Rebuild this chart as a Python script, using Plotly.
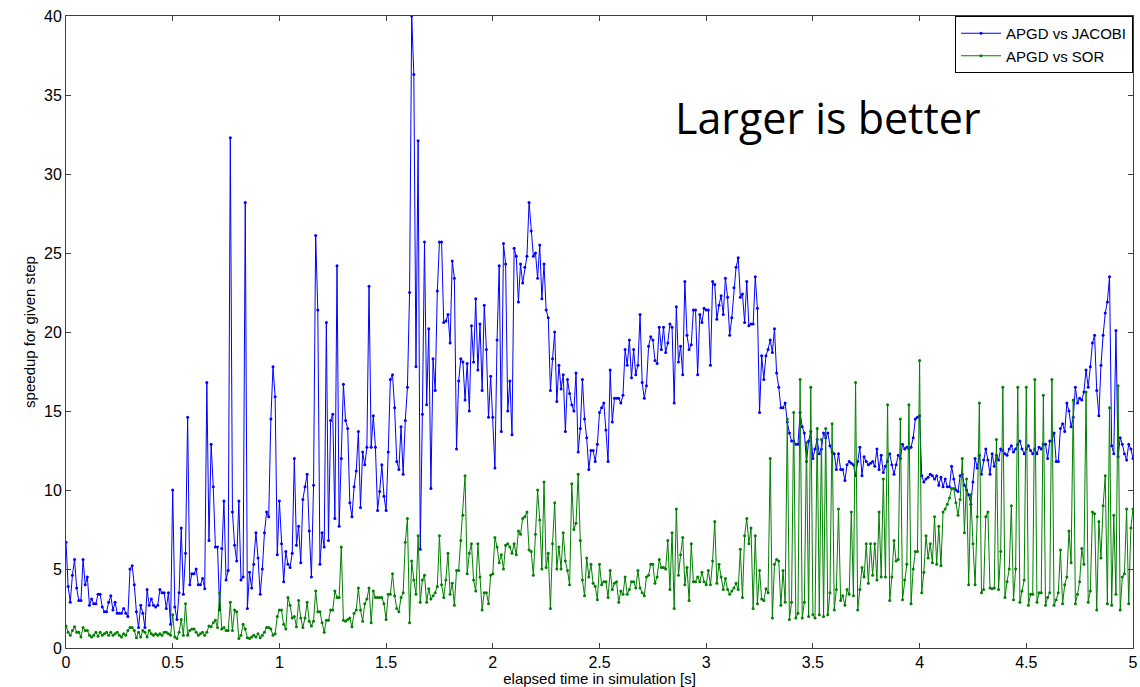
import plotly.graph_objects as go

# speedup APGD vs JACOBI, one value per 0.01 s (rows of 0.1 s)
jacobi = [
    6.7, 3.9, 2.9, 4.6, 5.6, 3.8, 3.0, 3.0, 5.6, 4.0,
    4.5, 2.7, 3.1, 2.8, 2.8, 3.4, 3.4, 2.6, 2.3, 2.3,
    2.9, 3.3, 2.4, 2.9, 2.2, 2.2, 2.2, 2.5, 2.2, 2.0,
    5.0, 5.2, 4.0, 2.3, 1.3, 2.7, 2.2, 1.3, 3.7, 2.7,
    3.1, 2.7, 2.6, 2.7, 3.7, 3.5, 3.5, 2.5, 3.5, 1.5,
    10.0, 2.6, 1.8, 3.5, 7.6, 3.4, 6.0, 14.6, 4.0, 4.7,
    4.7, 5.0, 4.0, 4.0, 4.4, 3.75, 16.8, 6.8, 12.9, 10.2,
    6.4, 6.4, 2.4, 6.3, 9.3, 4.3, 4.9, 32.3, 8.6, 6.5,
    5.5, 9.3, 4.3, 4.5, 28.2, 2.5, 4.8, 3.8, 5.3, 7.3,
    5.7, 3.4, 5.0, 7.3, 8.6, 8.3, 14.5, 17.8, 15.9, 5.9,
    9.3, 6.6, 4.2, 6.1, 5.3, 5.1, 6.0, 12.0, 6.5, 7.7,
    5.4, 9.4, 10.2, 11.0, 7.4, 4.5, 10.3, 26.1, 21.4, 5.3,
    7.3, 6.4, 20.6, 6.8, 14.4, 14.8, 8.2, 24.2, 7.7, 12.0,
    16.7, 14.4, 13.9, 9.2, 8.3, 10.2, 11.2, 13.7, 8.9, 12.4,
    11.6, 12.7, 22.9, 12.7, 14.7, 12.7, 8.7, 9.9, 11.6, 9.6,
    8.7, 12.4, 17.0, 17.3, 15.2, 11.8, 11.3, 14.0, 11.0, 14.4,
    16.5, 22.5, 40.0, 36.3, 17.8, 32.1, 6.25, 14.8, 25.7, 15.4,
    20.2, 10.1, 18.3, 16.3, 22.6, 25.7, 25.7, 20.6, 20.7, 21.1,
    19.3, 24.5, 23.4, 12.6, 16.9, 18.3, 18.1, 15.7, 18.0, 15.0,
    20.4, 18.1, 22.1, 17.6, 20.5, 16.3, 21.7, 18.9, 14.6, 17.2,
    14.6, 11.4, 19.5, 24.2, 13.7, 25.6, 24.3, 15.0, 16.9, 13.5,
    25.3, 24.8, 21.9, 24.3, 23.1, 24.1, 24.8, 28.2, 26.4, 24.8,
    25.0, 23.4, 25.5, 22.1, 24.3, 21.4, 20.9, 16.3, 18.3, 20.0,
    15.6, 17.9, 16.4, 17.3, 13.7, 17.0, 16.1, 15.4, 15.0, 17.4,
    12.4, 13.9, 17.0, 14.5, 13.3, 11.3, 12.5, 12.5, 11.8, 12.9,
    14.9, 15.2, 15.5, 13.8, 11.8, 17.6, 14.3, 15.8, 15.8, 15.8,
    15.5, 16.0, 18.9, 17.9, 19.5, 17.1, 18.9, 17.3, 17.9, 21.1,
    16.8, 15.8, 16.6, 19.1, 19.7, 19.5, 18.2, 18.0, 20.3, 18.9,
    20.3, 18.7, 19.3, 20.5, 20.3, 15.5, 21.6, 18.1, 19.1, 17.3,
    23.2, 19.8, 18.9, 19.2, 21.4, 21.4, 17.3, 21.1, 20.6, 21.5,
    21.4, 21.4, 17.9, 23.2, 23.0, 20.8, 21.7, 22.3, 21.1, 23.4,
    22.2, 19.8, 20.9, 22.8, 24.1, 24.7, 22.2, 22.4, 20.6, 23.2,
    20.4, 20.5, 20.5, 23.5, 21.5, 14.9, 18.5, 17.0, 18.5, 18.9,
    19.5, 18.7, 20.2, 17.4, 16.5, 15.2, 15.2, 15.5, 14.3, 13.6,
    13.1, 13.1, 12.9, 12.9, 14.9, 14.0, 13.6, 11.8, 13.1, 13.7,
    12.0, 12.6, 13.2, 12.3, 12.6, 13.6, 13.3, 13.6, 12.8, 12.4,
    12.3, 11.3, 12.3, 11.3, 11.3, 10.6, 11.6, 11.8, 11.7, 11.6,
    10.9, 11.8, 12.7, 10.9, 12.1, 11.8, 11.6, 11.7, 11.8, 11.5,
    12.6, 11.3, 12.2, 11.1, 11.5, 11.8, 12.3, 11.6, 11.0, 11.6,
    12.2, 12.0, 12.9, 12.6, 12.7, 12.6, 12.7, 13.3, 14.5, 14.6,
    14.7, 10.9, 10.5, 10.7, 10.8, 11.0, 10.9, 10.7, 10.9, 10.3,
    10.8, 10.2, 10.7, 10.2, 10.2, 11.5, 10.7, 10.0, 9.9, 10.9,
    11.0, 10.3, 10.0, 9.7, 9.1, 10.5, 12.0, 11.4, 12.2, 11.0,
    11.9, 12.6, 11.9, 11.0, 12.3, 11.5, 12.2, 11.9, 12.6, 12.5,
    12.3, 12.2, 12.6, 12.8, 12.4, 12.6, 12.9, 13.1, 12.6, 12.3,
    12.6, 12.8, 12.5, 12.3, 12.6, 12.3, 12.7, 12.6, 12.9, 12.9,
    12.0, 13.1, 13.1, 13.6, 11.8, 11.8, 13.9, 14.2, 13.7, 15.5,
    15.0, 14.0, 14.6, 16.5, 15.5, 15.8, 15.7, 16.2, 17.6, 16.5,
    17.8, 19.3, 19.8, 16.3, 14.7, 17.9, 19.8, 21.2, 21.9, 23.5,
    12.8, 12.3, 20.1, 12.1, 13.3, 12.9, 12.3, 11.9, 12.9, 12.6,
    12.0,
]

# speedup APGD vs SOR, one value per 0.01 s (rows of 0.1 s)
sor = [
    1.4, 1.0, 0.8, 1.1, 1.35, 1.0, 1.0, 0.7, 1.3, 1.1,
    1.1, 0.8, 0.7, 0.8, 1.0, 0.75, 1.0, 0.8, 0.9, 1.0,
    0.8, 1.0, 0.8, 0.9, 1.0, 0.8, 0.7, 0.9, 0.8, 1.1,
    1.3, 1.3, 1.1, 0.65, 1.0, 0.7, 1.1, 1.0, 0.7, 1.1,
    0.9, 0.8, 0.9, 0.8, 0.9, 0.8, 1.0, 1.0, 0.9, 0.8,
    2.1, 0.7, 0.6, 1.0, 1.8, 0.8, 2.8, 0.8, 1.1, 1.2,
    1.2, 1.0, 0.8, 0.9, 1.0, 0.8, 1.0, 1.4, 1.35, 1.6,
    1.75, 1.3, 3.5, 1.2, 1.3, 1.1, 1.1, 2.9, 1.1, 2.4,
    2.3, 0.6, 0.8, 1.5, 1.2, 0.65, 0.6, 0.7, 0.8, 0.7,
    0.9, 0.65, 0.8, 1.0, 1.3, 1.3, 1.2, 0.8, 0.9, 2.0,
    2.4, 2.4, 1.5, 1.2, 3.2, 2.7, 1.9, 2.0, 1.35, 3.0,
    1.9, 1.3, 1.9, 2.9, 1.7, 1.4, 1.7, 3.6, 2.3, 2.3,
    1.6, 1.0, 1.75, 1.75, 2.4, 2.4, 3.6, 3.2, 3.2, 6.4,
    1.75, 1.7, 1.8, 1.9, 1.35, 2.2, 2.4, 3.8, 2.4, 1.7,
    2.8, 3.1, 3.8, 1.6, 3.6, 3.2, 3.2, 3.2, 3.2, 2.8,
    1.8, 3.4, 3.4, 4.7, 3.3, 2.5, 2.3, 3.2, 3.5, 6.7,
    8.2, 1.6, 5.5, 4.3, 3.4, 7.1, 2.9, 4.3, 4.6, 2.9,
    3.75, 3.1, 3.3, 3.5, 3.9, 7.1, 4.0, 3.2, 4.3, 6.0,
    3.4, 4.1, 2.7, 4.9, 4.9, 6.8, 8.4, 10.9, 4.7, 6.0,
    6.6, 4.3, 3.6, 6.6, 4.5, 2.4, 3.5, 3.5, 2.8, 4.6,
    4.7, 7.0, 6.4, 5.4, 5.9, 5.0, 6.5, 6.6, 6.4, 6.0,
    6.6, 5.9, 7.4, 7.2, 8.2, 8.3, 8.6, 6.2, 6.1, 4.6,
    7.2, 10.0, 8.1, 5.0, 10.5, 5.1, 6.0, 2.5, 6.6, 9.2,
    5.0, 6.4, 5.0, 7.3, 5.5, 4.9, 4.0, 10.4, 7.5, 7.9,
    11.0, 6.8, 4.3, 3.3, 5.7, 4.5, 5.3, 4.1, 3.9, 3.05,
    5.3, 4.0, 4.2, 4.2, 3.2, 4.9, 3.7, 4.1, 4.2, 2.9,
    3.6, 3.4, 4.5, 3.4, 3.7, 4.2, 4.2, 3.8, 4.9, 3.8,
    3.5, 3.3, 4.5, 4.6, 5.3, 5.3, 4.1, 4.5, 5.6, 5.1,
    5.1, 5.0, 6.8, 3.7, 7.3, 2.5, 8.8, 4.6, 5.9, 7.0,
    4.0, 5.1, 3.0, 6.6, 4.2, 4.2, 4.5, 4.2, 4.8, 4.2,
    4.0, 4.9, 4.0, 5.5, 8.0, 4.1, 5.3, 4.5, 3.7, 4.4,
    3.7, 3.4, 3.6, 3.8, 4.1, 3.7, 6.25, 3.2, 7.1, 8.2,
    6.6, 7.6, 2.5, 7.1, 2.8, 4.9, 3.1, 3.0, 3.75, 3.5,
    12.0, 1.9, 5.3, 5.6, 5.5, 2.7, 4.9, 2.9, 14.5, 1.8,
    2.9, 14.9, 1.9, 2.2, 17.0, 1.9, 2.9, 13.0, 2.0, 16.5,
    2.1, 1.9, 13.9, 2.1, 13.2, 2.0, 13.9, 2.1, 3.5, 14.2,
    2.4, 3.7, 8.8, 3.0, 3.3, 2.7, 3.7, 3.4, 8.6, 3.3,
    16.8, 2.4, 3.7, 5.1, 4.5, 6.6, 4.1, 6.6, 4.6, 6.6,
    4.3, 8.6, 4.5, 10.7, 4.5, 15.4, 3.0, 4.5, 6.8, 5.5,
    5.6, 14.5, 3.05, 4.3, 5.3, 15.4, 2.8, 5.0, 6.1, 6.1,
    18.2, 3.5, 4.8, 7.1, 5.7, 6.6, 5.4, 8.3, 5.3, 7.7,
    5.2, 8.6, 8.8, 9.1, 9.5, 10.1, 10.1, 9.2, 8.4, 9.4,
    12.0, 7.3, 10.7, 4.0, 9.7, 6.6, 4.0, 8.3, 15.5, 3.5,
    3.7, 8.3, 8.6, 3.8, 3.75, 3.8, 13.2, 3.7, 6.1, 16.5,
    3.2, 4.2, 5.0, 9.0, 3.05, 5.0, 16.5, 2.9, 3.6, 4.3,
    16.5, 2.7, 3.4, 3.4, 17.0, 2.9, 3.5, 3.5, 16.0, 2.7,
    3.2, 3.5, 17.0, 2.7, 3.05, 3.5, 6.2, 2.8, 4.0, 4.5,
    7.4, 5.4, 15.7, 2.8, 3.4, 4.2, 6.3, 5.3, 16.2, 2.9,
    3.6, 8.6, 8.5, 2.4, 8.0, 5.7, 9.0, 10.9, 2.8, 15.2,
    2.7, 8.4, 3.4, 16.6, 2.4, 4.5, 4.7, 8.8, 2.8, 7.6,
    8.8,
]

series_names = ["APGD vs JACOBI", "APGD vs SOR"]
series_colors = ["#0000FF", "#008000"]
time_step_s = 0.01

x_ticks = [0, 0.5, 1, 1.5, 2, 2.5, 3, 3.5, 4, 4.5, 5]
x_tick_text = ["0", "0.5", "1", "1.5", "2", "2.5", "3", "3.5", "4", "4.5", "5"]
y_ticks = [0, 5, 10, 15, 20, 25, 30, 35, 40]


def times(values):
    return [round(i * time_step_s, 2) for i in range(len(values))]


fig = go.Figure()
for name, vals, col in zip(series_names, [jacobi, sor], series_colors):
    fig.add_trace(go.Scatter(
        x=times(vals), y=vals, name=name, mode="lines+markers",
        line=dict(color=col, width=1),
        marker=dict(color=col, size=3, symbol="circle"),
    ))

axis_common = dict(
    showgrid=False, zeroline=False, showline=True, linecolor="#404040",
    linewidth=1, mirror="ticks", ticks="inside", ticklen=5, tickcolor="#404040",
    automargin=False,
    tickfont=dict(family="Liberation Sans, Arial, sans-serif", size=16, color="black"),
)

fig.update_layout(
    width=1140, height=687,
    margin=dict(l=66, r=7, t=16, b=39),
    paper_bgcolor="white", plot_bgcolor="white",
    font=dict(family="Liberation Sans, Arial, sans-serif", color="black"),
    xaxis=dict(range=[0, 5], tickvals=x_ticks, ticktext=x_tick_text,
               title=dict(text="elapsed time in simulation [s]",
                          font=dict(size=15), standoff=2),
               **axis_common),
    yaxis=dict(range=[0, 40], tickvals=y_ticks,
               title=dict(text="speedup for given step",
                          font=dict(size=15), standoff=4),
               **axis_common),
    legend=dict(x=1, y=1, xanchor="right", yanchor="top",
                bgcolor="white", bordercolor="black", borderwidth=1,
                font=dict(size=15, family="Liberation Sans, Arial, sans-serif"),
                tracegroupgap=0, itemwidth=40),
    showlegend=True,
    annotations=[dict(
        x=3.57, y=33.6, xref="x", yref="y", text="Larger is better",
        showarrow=False, font=dict(family="Open Sans, sans-serif", size=43, color="black"),
    )],
)

fig.write_html("out.html")
